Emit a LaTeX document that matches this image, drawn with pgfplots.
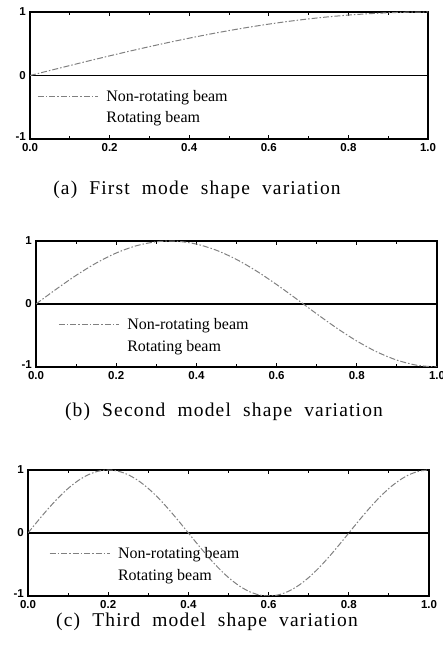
\documentclass[border=0pt]{standalone}
\usepackage{fontspec}
\setmainfont{Liberation Serif}
\newfontfamily\tickfont{Liberation Sans}
\newfontfamily\capfont{Liberation Serif}[LetterSpace=6,WordSpace=2]
\usepackage{pgfplots}
\pgfplotsset{compat=1.18}
\pgfplotsset{legend image code/.code={\draw[#1] (0pt,0pt) -- (60pt,0pt);}}
\pgfplotsset{
  mode/.style={scale only axis, xmin=0, xmax=1, ymin=-1, ymax=1,
    xtick={0,0.2,0.4,0.6,0.8,1}, xticklabels={0.0,0.2,0.4,0.6,0.8,1.0},
    ytick={-1,0,1}, yticklabels={\raisebox{4pt}{-1},0,1},
    minor x tick num=1, tick align=inside,
    axis line style={line width=1.8pt},
    major tick length=4pt, minor tick length=3pt,
    tick style={black, line width=1pt},
    ticklabel style={font=\tickfont\bfseries\fontsize{11.5}{13}\selectfont},
    xticklabel style={inner sep=1pt, yshift=-3pt},
    yticklabel style={inner sep=1pt, xshift=-3pt},
    legend cell align=left,
    legend style={draw=none, fill=none, anchor=west, inner sep=0pt,
      font=\fontsize{16}{18}\selectfont, row sep=5pt,
      /tikz/every odd column/.append style={column sep=6pt}},
  },
  curve/.style={color=black!50, line width=1pt, smooth,
    dash pattern=on 6pt off 2pt on 1.5pt off 2pt},
}
\begin{document}
\begin{tikzpicture}
\useasboundingbox (0,0) rectangle (443pt,652pt);
% (a)
\begin{axis}[mode, at={(30pt,513pt)}, anchor=south west, width=398pt, height=127pt,
  legend style={at={(axis cs:0.018,-0.5)}}]
\addplot[black, line width=1.8pt, forget plot] coordinates {(0,0) (1,0)};
\addplot[curve] coordinates {
(0,0) (0.05,0.0785) (0.1,0.1564) (0.15,0.2334) (0.2,0.3090) (0.25,0.3827)
(0.3,0.4540) (0.35,0.5225) (0.4,0.5878) (0.45,0.6494) (0.5,0.7071)
(0.55,0.7604) (0.6,0.8090) (0.65,0.8526) (0.7,0.8910) (0.75,0.9239)
(0.8,0.9511) (0.85,0.9724) (0.9,0.9877) (0.95,0.9969) (1,1)};
\addlegendentry{Non-rotating beam}
\addlegendimage{empty legend}
\addlegendentry{Rotating beam}
\end{axis}
\node[font=\capfont\fontsize{19.5}{22}\selectfont] at (197pt,462pt) {(a) First mode shape variation};
% (b)
\begin{axis}[mode, at={(36pt,285pt)}, anchor=south west, width=401pt, height=126pt,
  legend style={at={(axis cs:0.055,-0.5)}}]
\addplot[black, line width=1.8pt, forget plot] coordinates {(0,0) (1,0)};
\addplot[curve] coordinates {
(0,0) (0.05,0.2334) (0.1,0.4540) (0.15,0.6494) (0.2,0.8090) (0.25,0.9239)
(0.3,0.9877) (0.35,0.9969) (0.4,0.9511) (0.45,0.8526) (0.5,0.7071)
(0.55,0.5225) (0.6,0.3090) (0.65,0.0785) (0.7,-0.1564) (0.75,-0.3827)
(0.8,-0.5878) (0.85,-0.7604) (0.9,-0.8910) (0.95,-0.9724) (1,-1)};
\addlegendentry{Non-rotating beam}
\addlegendimage{empty legend}
\addlegendentry{Rotating beam}
\end{axis}
\node[font=\capfont\fontsize{19.5}{22}\selectfont] at (224pt,240pt) {(b) Second model shape variation};
% (c)
\begin{axis}[mode, at={(28pt,56pt)}, anchor=south west, width=401pt, height=126pt,
  legend style={at={(axis cs:0.052,-0.5)}}]
\addplot[black, line width=1.8pt, forget plot] coordinates {(0,0) (1,0)};
\addplot[curve] coordinates {
(0,0) (0.025,0.1951) (0.05,0.3827) (0.075,0.5556) (0.1,0.7071) (0.125,0.8315)
(0.15,0.9239) (0.175,0.9808) (0.2,1) (0.225,0.9808) (0.25,0.9239) (0.275,0.8315)
(0.3,0.7071) (0.325,0.5556) (0.35,0.3827) (0.375,0.1951) (0.4,0)
(0.425,-0.1951) (0.45,-0.3827) (0.475,-0.5556) (0.5,-0.7071) (0.525,-0.8315)
(0.55,-0.9239) (0.575,-0.9808) (0.6,-1) (0.625,-0.9808) (0.65,-0.9239)
(0.675,-0.8315) (0.7,-0.7071) (0.725,-0.5556) (0.75,-0.3827) (0.775,-0.1951)
(0.8,0) (0.825,0.1951) (0.85,0.3827) (0.875,0.5556) (0.9,0.7071)
(0.925,0.8315) (0.95,0.9239) (0.975,0.9808) (1,1)};
\addlegendentry{Non-rotating beam}
\addlegendimage{empty legend}
\addlegendentry{Rotating beam}
\end{axis}
\node[font=\capfont\fontsize{19.5}{22}\selectfont] at (207pt,30pt) {(c) Third model shape variation};
\end{tikzpicture}
\end{document}
